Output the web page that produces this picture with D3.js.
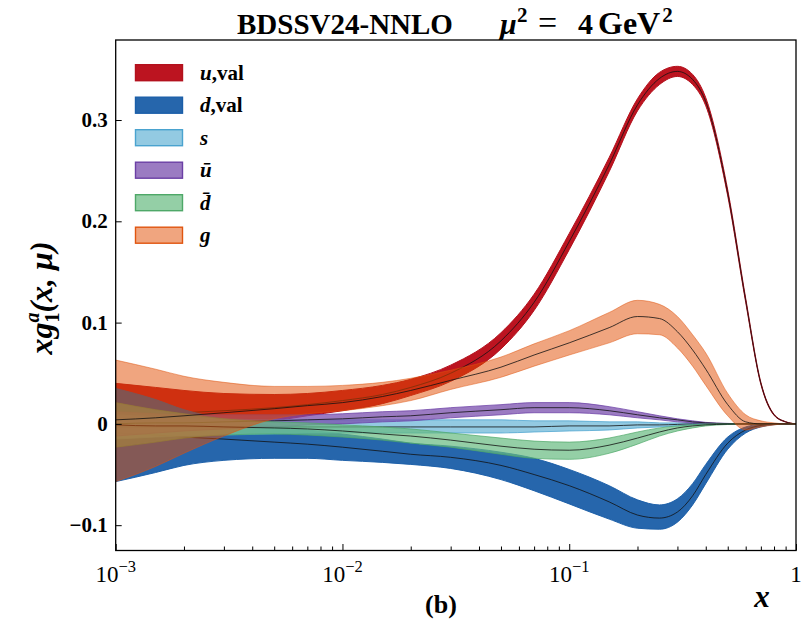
<!DOCTYPE html>
<html>
<head>
<meta charset="utf-8">
<script src="https://cdn.jsdelivr.net/npm/d3@7"></script>
<style>
  body { margin: 0; background: #fff; }
  svg { display: block; }
  text { font-family: 'Liberation Serif', 'DejaVu Serif', serif; }
</style>
</head>
<body>
<script>
// x grid shared by all distributions
const xs = [0.001, 0.0015, 0.002, 0.003, 0.005, 0.007, 0.01, 0.015, 0.02, 0.03, 0.05, 0.07,
  0.1, 0.15, 0.2, 0.25, 0.3, 0.35, 0.4, 0.5, 0.6, 0.7, 0.8, 0.9, 1.0];

// u valence
const uvalMid = [0.009, 0.010, 0.011, 0.013, 0.016, 0.019, 0.023, 0.029, 0.036, 0.050, 0.082, 0.120,
  0.180, 0.256, 0.315, 0.341, 0.348, 0.340, 0.318, 0.228, 0.122, 0.040, 0.009, 0.002, 0];
const uvalLo = [-0.022, -0.016, -0.011, -0.004, 0.003, 0.008, 0.013, 0.020, 0.028, 0.042, 0.074, 0.112,
  0.172, 0.249, 0.309, 0.335, 0.343, 0.335, 0.314, 0.225, 0.120, 0.039, 0.0085, 0.0018, 0];
const uvalHi = [0.040, 0.036, 0.033, 0.030, 0.029, 0.030, 0.033, 0.038, 0.044, 0.058, 0.090, 0.128,
  0.188, 0.263, 0.321, 0.347, 0.353, 0.345, 0.322, 0.231, 0.124, 0.041, 0.0095, 0.0022, 0];

// d valence
const dvalMid = [-0.009, -0.011, -0.013, -0.015, -0.018, -0.020, -0.023, -0.027, -0.030, -0.033, -0.041, -0.050,
  -0.061, -0.077, -0.090, -0.093, -0.087, -0.071, -0.050, -0.019, -0.006, -0.0015, -0.0003, 0, 0];
const dvalLo = [-0.057, -0.048, -0.041, -0.036, -0.034, -0.034, -0.036, -0.038, -0.040, -0.044, -0.055, -0.066,
  -0.079, -0.094, -0.103, -0.104, -0.097, -0.080, -0.059, -0.025, -0.009, -0.003, -0.0008, 0, 0];
const dvalHi = [0.035, 0.024, 0.014, 0.005, -0.002, -0.006, -0.010, -0.015, -0.019, -0.022, -0.028, -0.034,
  -0.045, -0.061, -0.075, -0.080, -0.074, -0.059, -0.040, -0.013, -0.003, -0.0005, 0, 0, 0];

// strange
const sMid = [-0.003, -0.003, -0.003, -0.003, -0.003, -0.003, -0.003, -0.003, -0.003, -0.003, -0.003, -0.003,
  -0.002, -0.002, -0.001, -0.001, -0.0005, 0, 0, 0, 0, 0, 0, 0, 0];
const sLo = [-0.015, -0.013, -0.012, -0.011, -0.010, -0.009, -0.009, -0.009, -0.009, -0.009, -0.009, -0.008,
  -0.007, -0.006, -0.004, -0.003, -0.002, -0.001, -0.0005, 0, 0, 0, 0, 0, 0];
const sHi = [0.009, 0.007, 0.006, 0.005, 0.004, 0.004, 0.004, 0.004, 0.004, 0.004, 0.004, 0.003,
  0.003, 0.002, 0.002, 0.001, 0.001, 0.0005, 0.0003, 0, 0, 0, 0, 0, 0];

// u bar
const ubarMid = [0.000, 0.001, 0.001, 0.002, 0.003, 0.004, 0.005, 0.007, 0.008, 0.011, 0.014, 0.016,
  0.016, 0.013, 0.009, 0.006, 0.004, 0.002, 0.001, 0.0003, 0, 0, 0, 0, 0];
const ubarLo = [-0.012, -0.009, -0.007, -0.005, -0.003, -0.001, 0.000, 0.002, 0.003, 0.006, 0.009, 0.011,
  0.011, 0.009, 0.006, 0.004, 0.002, 0.001, 0.0005, 0, 0, 0, 0, 0, 0];
const ubarHi = [0.012, 0.010, 0.009, 0.009, 0.009, 0.009, 0.010, 0.012, 0.013, 0.016, 0.019, 0.021,
  0.021, 0.017, 0.012, 0.008, 0.005, 0.003, 0.0015, 0.0005, 0, 0, 0, 0, 0];

// d bar
const dbarMid = [-0.001, -0.002, -0.002, -0.003, -0.004, -0.005, -0.007, -0.010, -0.012, -0.016, -0.022, -0.025,
  -0.026, -0.021, -0.014, -0.008, -0.004, -0.002, -0.001, -0.0003, 0, 0, 0, 0, 0];
const dbarLo = [-0.023, -0.018, -0.014, -0.011, -0.010, -0.011, -0.013, -0.016, -0.019, -0.023, -0.030, -0.034,
  -0.035, -0.029, -0.020, -0.012, -0.007, -0.004, -0.002, -0.0006, 0, 0, 0, 0, 0];
const dbarHi = [0.021, 0.014, 0.010, 0.005, 0.002, 0.001, -0.001, -0.003, -0.005, -0.009, -0.014, -0.017,
  -0.018, -0.014, -0.008, -0.004, -0.002, -0.001, 0, 0, 0, 0, 0, 0, 0];

// gluon
const gMid = [0.004, 0.006, 0.008, 0.011, 0.015, 0.018, 0.021, 0.027, 0.033, 0.043, 0.056, 0.068,
  0.080, 0.095, 0.106, 0.104, 0.091, 0.073, 0.054, 0.019, 0.002, 0.000, 0, 0, 0];
const gLo = [-0.057, -0.042, -0.029, -0.012, 0.005, 0.010, 0.013, 0.018, 0.023, 0.034, 0.046, 0.057,
  0.068, 0.080, 0.089, 0.088, 0.075, 0.057, 0.038, 0.008, -0.006, -0.003, -0.001, 0, 0];
const gHi = [0.063, 0.054, 0.047, 0.041, 0.037, 0.037, 0.038, 0.041, 0.045, 0.053, 0.066, 0.079,
  0.092, 0.110, 0.122, 0.118, 0.106, 0.088, 0.070, 0.030, 0.009, 0.003, 0.001, 0, 0];

const yTicks = [-0.1, 0, 0.1, 0.2, 0.3];
const yTickLabels = ['\u22120.1', '0', '0.1', '0.2', '0.3'];
const xMajor = [1e-3, 1e-2, 1e-1, 1];
const xMajorExp = ['\u22123', '\u22122', '\u22121', ''];

(function() {
  'use strict';

  const series = [
    { name: 'u', suffix: ',val', mid: uvalMid, lo: uvalLo, hi: uvalHi, fill: '#bc1420', edge: '#b3111d', op: 1 },
    { name: 'd', suffix: ',val', mid: dvalMid, lo: dvalLo, hi: dvalHi, fill: '#1a5ea8', edge: '#1a5ea8', op: 0.95 },
    { name: 's', suffix: '', mid: sMid, lo: sLo, hi: sHi, fill: '#6fb8d8', edge: '#4aa3cf', op: 0.75 },
    { name: '\u016B', suffix: '', mid: ubarMid, lo: ubarLo, hi: ubarHi, fill: '#7a4fae', edge: '#6b3fa5', op: 0.75 },
    { name: 'd\u0304', suffix: '', mid: dbarMid, lo: dbarLo, hi: dbarHi, fill: '#66bb80', edge: '#4ea868', op: 0.7 },
    { name: 'g', suffix: '', mid: gMid, lo: gLo, hi: gHi, fill: '#e24c00', edge: '#e0550f', op: 0.5 }
  ];

  const w = 805;
  const h = 624;
  const pLeft = 115.7, pRight = 796, pTop = 40, pBottom = 550.5;

  const svg = d3.select('body').append('svg')
    .attr('width', w)
    .attr('height', h);

  const xScale = d3.scaleLog().domain([1e-3, 1]).range([pLeft, pRight]);
  const yScale = d3.scaleLinear().domain([-0.125, 0.379]).range([pBottom, pTop]);

  svg.append('clipPath').attr('id', 'clip')
    .append('rect')
    .attr('x', pLeft).attr('y', pTop)
    .attr('width', pRight - pLeft).attr('height', pBottom - pTop);

  const plot = svg.append('g').attr('clip-path', 'url(#clip)');

  const rows = (s) => xs.map((x, i) => ({ x: x, lo: s.lo[i], hi: s.hi[i], mid: s.mid[i] }));

  const area = d3.area()
    .x((d) => xScale(d.x))
    .y0((d) => yScale(d.lo))
    .y1((d) => yScale(d.hi))
    .curve(d3.curveMonotoneX);

  const line = d3.line()
    .x((d) => xScale(d.x))
    .y((d) => yScale(d.mid))
    .curve(d3.curveMonotoneX);

  // bands, then the central line on top of each
  series.forEach((s) => {
    const data = rows(s);
    plot.append('path')
      .datum(data)
      .attr('d', area)
      .attr('fill', s.fill)
      .attr('fill-opacity', s.op)
      .attr('stroke', s.edge)
      .attr('stroke-opacity', s.op)
      .attr('stroke-width', 1);
    plot.append('path')
      .datum(data)
      .attr('d', line)
      .attr('fill', 'none')
      .attr('stroke', '#111')
      .attr('stroke-width', 0.8);
  });

  // axes
  const minorX = [];
  [1e-3, 1e-2, 1e-1].forEach((dec) => {
    for (let k = 2; k <= 9; k++) minorX.push(dec * k);
  });

  const xAxis = d3.axisBottom(xScale).tickValues(xMajor).tickSize(-6.5).tickFormat('');
  const xAxisMinor = d3.axisBottom(xScale).tickValues(minorX).tickSize(-4).tickFormat('');
  const yAxis = d3.axisLeft(yScale).tickValues(yTicks).tickSize(-6).tickFormat('');

  svg.append('g')
    .attr('transform', 'translate(0,' + pBottom + ')')
    .call(xAxis)
    .call((g) => g.select('.domain').remove());
  svg.append('g')
    .attr('transform', 'translate(0,' + pBottom + ')')
    .call(xAxisMinor)
    .call((g) => g.select('.domain').remove());
  svg.append('g')
    .attr('transform', 'translate(' + pLeft + ',0)')
    .call(yAxis)
    .call((g) => g.select('.domain').remove());
  svg.selectAll('.tick line').attr('stroke', '#000').attr('stroke-width', 1);

  svg.append('rect')
    .attr('x', pLeft).attr('y', pTop)
    .attr('width', pRight - pLeft).attr('height', pBottom - pTop)
    .attr('fill', 'none')
    .attr('stroke', '#000')
    .attr('stroke-width', 1.3);

  // y tick labels
  svg.selectAll('.ylab')
    .data(yTicks)
    .enter()
    .append('text')
    .attr('class', 'ylab')
    .attr('x', pLeft - 8)
    .attr('y', (d) => yScale(d) + 7)
    .attr('text-anchor', 'end')
    .attr('font-size', 21)
    .attr('font-weight', 'bold')
    .text((d, i) => yTickLabels[i]);

  // x tick labels
  const xl = svg.selectAll('.xlab')
    .data(xMajor)
    .enter()
    .append('text')
    .attr('class', 'xlab')
    .attr('x', (d) => xScale(d))
    .attr('y', 582)
    .attr('text-anchor', 'middle')
    .attr('font-size', 23);
  xl.append('tspan').text((d, i) => xMajorExp[i] ? '10' : '1');
  xl.append('tspan')
    .attr('dy', -10)
    .attr('font-size', 16.5)
    .text((d, i) => xMajorExp[i]);

  // legend
  const legend = svg.append('g');
  series.forEach((s, i) => {
    const cy = 72.7 + i * 32.5;
    legend.append('rect')
      .attr('x', 135.5).attr('y', cy - 8)
      .attr('width', 47).attr('height', 16)
      .attr('fill', s.fill)
      .attr('fill-opacity', s.op)
      .attr('stroke', s.edge)
      .attr('stroke-width', 1.4);
    const t = legend.append('text')
      .attr('x', 200)
      .attr('y', cy + 7)
      .attr('font-size', 21)
      .attr('font-weight', 'bold');
    t.append('tspan').attr('font-style', 'italic').text(s.name);
    if (s.suffix) t.append('tspan').text(s.suffix);
  });

  // title
  svg.append('text')
    .attr('x', 237).attr('y', 34)
    .attr('font-size', 29)
    .attr('font-weight', 'bold')
    .text('BDSSV24-NNLO');
  const mu = svg.append('text')
    .attr('y', 34)
    .attr('font-size', 30)
    .attr('font-weight', 'bold');
  mu.append('tspan').attr('x', 500).attr('font-style', 'italic').text('\u03BC');
  mu.append('tspan').attr('x', 517).attr('dy', -12).attr('font-size', 21).text('2');
  mu.append('tspan').attr('x', 538).attr('dy', 12).attr('font-size', 34).attr('font-weight', 'normal').text('=');
  mu.append('tspan').attr('x', 578).text('4');
  mu.append('tspan').attr('x', 598).attr('font-size', 32).text('GeV');
  mu.append('tspan').attr('dx', 2).attr('dy', -12).attr('font-size', 21).text('2');

  // y label
  const yl = svg.append('text')
    .attr('transform', 'translate(52,298) rotate(-90)')
    .attr('text-anchor', 'middle')
    .attr('font-size', 32)
    .attr('font-weight', 'bold')
    .attr('font-style', 'italic');
  yl.append('tspan').text('xg');
  yl.append('tspan').attr('dy', 7).attr('font-size', 20).attr('font-style', 'normal').text('1');
  yl.append('tspan').attr('dx', -10).attr('dy', -20).attr('font-size', 20).text('a');
  yl.append('tspan').attr('dy', 13).text('(x, \u03BC)');

  // x label and panel tag
  svg.append('text')
    .attr('x', 762).attr('y', 607)
    .attr('text-anchor', 'middle')
    .attr('font-size', 31)
    .attr('font-weight', 'bold')
    .attr('font-style', 'italic')
    .text('x');
  svg.append('text')
    .attr('x', 441).attr('y', 613)
    .attr('text-anchor', 'middle')
    .attr('font-size', 26)
    .attr('font-weight', 'bold')
    .text('(b)');
}());
</script>
</body>
</html>
